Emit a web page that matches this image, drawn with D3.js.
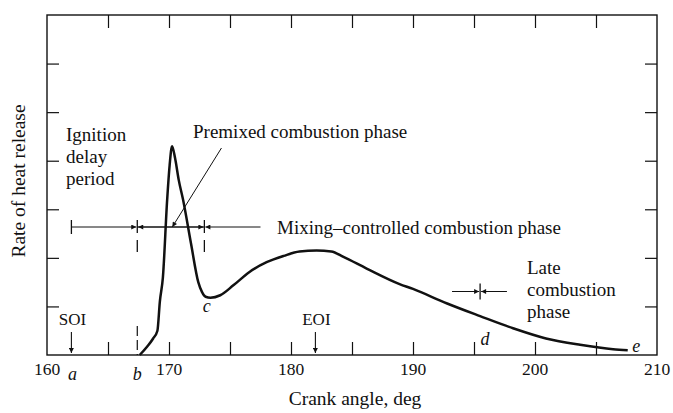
<!DOCTYPE html>
<html>
<head>
<meta charset="utf-8">
<script src="https://cdn.jsdelivr.net/npm/d3@7/dist/d3.min.js"></script>
<style>
  html, body { margin: 0; padding: 0; background: #fff; }
  svg { display: block; }
  text { font-family: "Liberation Serif", "DejaVu Serif", serif; fill: #111; }
</style>
</head>
<body>
<svg id="chart" width="673" height="413"></svg>
<script>
// ---- data ----
const crankAngle = [167.6, 168.2, 168.7, 169.05, 169.25, 169.5, 169.85, 170.05, 170.25, 170.5, 170.8, 171.15, 171.8, 172.4, 172.7, 173.0, 173.4, 174.2, 175.3, 176.6, 178.0, 179.4, 180.7, 182.1, 183.3, 184.3, 186.2, 188.9, 190.0, 192.8, 195.5, 198.2, 200.9, 203.7, 206.4, 207.6];
const heatRelease = [0, 0.17, 0.34, 0.5, 1.1, 1.6, 3.2, 3.9, 4.3, 4.05, 3.6, 3.2, 2.3, 1.5, 1.3, 1.2, 1.18, 1.23, 1.44, 1.71, 1.91, 2.04, 2.13, 2.15, 2.13, 2.02, 1.78, 1.46, 1.36, 1.06, 0.80, 0.55, 0.34, 0.21, 0.12, 0.10];
const xTickLabels = [160, 170, 180, 190, 200, 210];
const xMinorTicks = [165, 170, 175, 180, 185, 190, 195, 200, 205];
const yTicks = [1, 2, 3, 4, 5, 6];
const pointNames = ["a", "b", "c", "d", "e"];
const pointAngles = [162.1, 167.4, 173.1, 195.9, 208.3];

(function () {
const svg = d3.select("#chart");
const pLeft = 47, pRight = 657, pTop = 15, pBottom = 355;
const x = d3.scaleLinear().domain([160, 210]).range([pLeft, pRight]);
const y = d3.scaleLinear().domain([0, 7]).range([pBottom, pTop]);

// arrow markers
const defs = svg.append("defs");
defs.append("marker").attr("id", "ah").attr("viewBox", "0 0 10 10")
  .attr("refX", 10).attr("refY", 5).attr("markerWidth", 6).attr("markerHeight", 5)
  .attr("markerUnits", "userSpaceOnUse").attr("orient", "auto")
  .append("path").attr("d", "M0,0 L10,5 L0,10 Z").attr("fill", "#111");

// frame
svg.append("rect").attr("x", pLeft).attr("y", pTop).attr("width", pRight - pLeft).attr("height", pBottom - pTop)
  .attr("fill", "none").attr("stroke", "#111").attr("stroke-width", 1.4);

// ticks (all pointing inward)
const gx = svg.append("g").attr("transform", `translate(0,${pBottom})`)
  .call(d3.axisBottom(x).tickValues(xMinorTicks).tickSize(-13).tickFormat(""));
const gxt = svg.append("g").attr("transform", `translate(0,${pTop})`)
  .call(d3.axisTop(x).tickValues(xMinorTicks).tickSize(-13).tickFormat(""));
const gy = svg.append("g").attr("transform", `translate(${pLeft},0)`)
  .call(d3.axisLeft(y).tickValues(yTicks).tickSize(-12).tickFormat(""));
const gyr = svg.append("g").attr("transform", `translate(${pRight},0)`)
  .call(d3.axisRight(y).tickValues(yTicks).tickSize(-12).tickFormat(""));
[gx, gxt, gy, gyr].forEach(g => {
  g.select(".domain").remove();
  g.selectAll("line").attr("stroke", "#111").attr("stroke-width", 1.2);
});

// x tick labels
svg.append("g").selectAll("text").data(xTickLabels).join("text")
  .attr("x", d => x(d)).attr("y", 375).attr("text-anchor", "middle")
  .attr("font-size", 17.5).text(d => d);

// axis titles
svg.append("text").attr("x", 355).attr("y", 405).attr("text-anchor", "middle")
  .attr("font-size", 19.5).text("Crank angle, deg");
svg.append("text").attr("transform", `translate(25,181) rotate(-90)`).attr("text-anchor", "middle")
  .attr("font-size", 19.5).text("Rate of heat release");

// curve
const line = d3.line().x((d, i) => x(crankAngle[i])).y(d => y(d)).curve(d3.curveMonotoneX);
svg.append("path").datum(heatRelease).attr("d", line)
  .attr("fill", "none").attr("stroke", "#111").attr("stroke-width", 2.5).attr("stroke-linejoin", "round");

// point labels a..e (italic)
const pointY = [380, 380, 312, 345, 352];
svg.append("g").selectAll("text").data(pointNames).join("text")
  .attr("x", (d, i) => x(pointAngles[i])).attr("y", (d, i) => pointY[i])
  .attr("text-anchor", "middle").attr("font-style", "italic").attr("font-size", 18).text(d => d);

// b dashed marker near axis
svg.append("line").attr("x1", x(167.4)).attr("x2", x(167.4)).attr("y1", 326).attr("y2", pBottom)
  .attr("stroke", "#111").attr("stroke-width", 1.2).attr("stroke-dasharray", "10,4");

// SOI / EOI arrows
[[162, "SOI"], [182, "EOI"]].forEach(([a, t]) => {
  svg.append("text").attr("x", x(a) + 1).attr("y", 325).attr("text-anchor", "middle").attr("font-size", 17).text(t);
  svg.append("line").attr("x1", x(a)).attr("x2", x(a)).attr("y1", 332).attr("y2", 353)
    .attr("stroke", "#111").attr("stroke-width", 1.1).attr("marker-end", "url(#ah)");
});

// phase range arrows at y = 227
const ay = 227;
function arrow(x1, x2, yy) {
  svg.append("line").attr("x1", x1).attr("x2", x2).attr("y1", yy).attr("y2", yy)
    .attr("stroke", "#111").attr("stroke-width", 1).attr("marker-end", "url(#ah)");
}
function bar(xx, y1, y2) {
  svg.append("line").attr("x1", xx).attr("x2", xx).attr("y1", y1).attr("y2", y2)
    .attr("stroke", "#111").attr("stroke-width", 1.3);
}
bar(x(162), ay - 7, ay + 7);
arrow(x(162), x(167.4) - 1, ay);
bar(x(167.4), ay - 7, ay + 6);
bar(x(167.4), ay + 13, ay + 25);
arrow(x(172.9), x(167.4) + 1, ay);
arrow(x(167.4), x(172.9) - 1, ay);
bar(x(172.9), ay - 7, ay + 6);
bar(x(172.9), ay + 13, ay + 25);
arrow(x(177.5), x(172.9) + 1, ay);

// premixed pointer
svg.append("line").attr("x1", x(174.3)).attr("y1", 148).attr("x2", x(170.27)).attr("y2", ay)
  .attr("stroke", "#111").attr("stroke-width", 1).attr("marker-end", "url(#ah)");

// late combustion arrows
const ly = 291.5;
arrow(x(193.2), x(195.5) - 1, ly);
arrow(x(197.7), x(195.5) + 1, ly);
bar(x(195.5), ly - 8, ly + 8);

// texts
const fs = 19;
svg.append("text").attr("x", 193).attr("y", 138).attr("font-size", fs).text("Premixed combustion phase");
svg.append("text").attr("x", 277).attr("y", 234).attr("font-size", fs).text("Mixing\u2013controlled combustion phase");
["Ignition", "delay", "period"].forEach((t, i) =>
  svg.append("text").attr("x", 66).attr("y", 141 + i * 22).attr("font-size", fs).text(t));
["Late", "combustion", "phase"].forEach((t, i) =>
  svg.append("text").attr("x", 527).attr("y", 274 + i * 22).attr("font-size", fs).text(t));
})();
</script>
</body>
</html>
